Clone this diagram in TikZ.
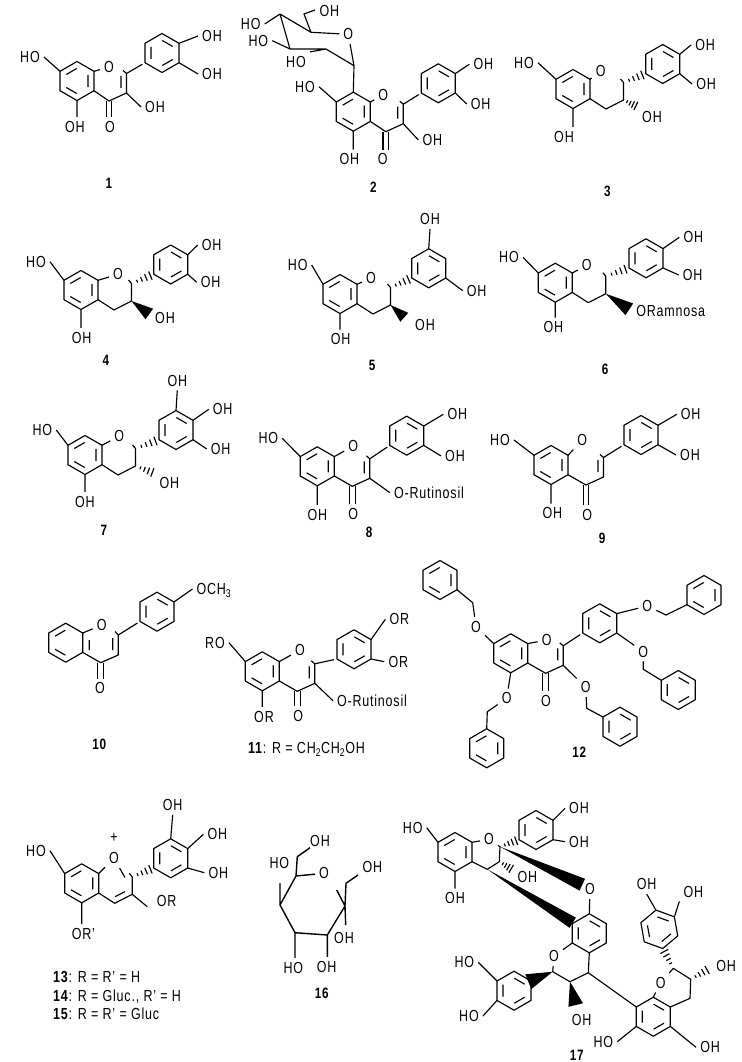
\documentclass[tikz,border=0pt]{standalone}
\usepackage{fontspec}
\setmainfont[FakeStretch=0.78,LetterSpace=5]{Liberation Sans}
\usetikzlibrary{calc}

\newcommand{\hexring}{
  \coordinate (-1) at (0,-19.5);
  \coordinate (-2) at (17,-9.7);
  \coordinate (-3) at (17,9.7);
  \coordinate (-4) at (0,19.5);
  \coordinate (-5) at (-17,9.7);
  \coordinate (-6) at (-17,-9.7);
  \draw[bond] (-1) -- (-2) -- (-3) -- (-4) -- (-5) -- (-6) -- cycle;
}
\newcommand{\innera}{\draw[bond] (-10.7,-6.5) -- (-0.3,-12.5) (11,-6) -- (11,6) (-0.3,12.5) -- (-10.7,6.5);}
\newcommand{\innerb}{\draw[bond] (0.3,-12.5) -- (10.7,-6.5) (10.7,6.5) -- (0.3,12.5) (-11,6) -- (-11,-6);}
\newcommand{\hashbond}[2]{\foreach \hp/\hw in {.25/1.5,.45/2.5,.65/3.5,.85/4.5}
  {\draw[bond] ($(#1)!\hp!(#2)!\hw pt!90:(#2)$) -- ($(#1)!\hp!(#2)!\hw pt!-90:(#2)$);}}
\newcommand{\wedgebond}[3]{\fill ($(#1)$) -- ($(#2)!#3pt!90:(#1)$) -- ($(#2)!#3pt!-90:(#1)$) -- cycle;}
\newcommand{\oxobond}[2]{\draw[bond] ([xshift=-2.8pt]#1) -- ([xshift=-2.8pt]#1 |- #2.north)
  ([xshift=2.8pt]#1) -- ([xshift=2.8pt]#1 |- #2.north);}

\tikzset{
  bond/.style={line width=1.15pt, line join=round},
  gap/.style={bond, shorten >=3pt},
  lbl/.style={inner sep=4pt, text depth=0pt, font=\fontsize{16}{18}\selectfont},
  num/.style={lbl, inner sep=0pt, font=\fontsize{15}{17}\selectfont\bfseries},
  pics/ringa/.style={code={\hexring \innera}},
  pics/ringb/.style={code={\hexring \innerb}},
  pics/ringc/.style={code={\hexring \draw[bond] (-10.7,-6.5) -- (-0.3,-12.5) (-0.3,12.5) -- (-10.7,6.5);}},
  pics/flavonol/.style={code={
    \hexring \innera
    \coordinate (-c4) at ({35+#1},20);
    \coordinate (-c3) at ({52.5+#1},12);
    \coordinate (-c2) at ({52.5+#1},-7.5);
    \coordinate (-t) at ({49+#1},-10.5);
    \draw[bond] (-3) -- (-c4) -- (-c3) -- (-c2) -- (-t) ({47+#1},-5) -- ({47+#1},7);
  }},
  pics/flavonol/.default=0,
  pics/flavan/.style={code={
    \hexring \innera
    \coordinate (-c4) at (33,20);
    \coordinate (-c3) at (50.5,11);
    \coordinate (-c2) at (50.5,-6.5);
    \coordinate (-t) at (47.5,-10);
    \draw[bond] (-3) -- (-c4) -- (-c3) -- (-c2) -- (-t);
  }},
}

\begin{document}
\begin{tikzpicture}[x=1pt, y=-1pt]
  \useasboundingbox (0,0) rectangle (741,1062);

  \pic (m1) at (77,81) {flavonol=-3};
  \pic (m1b) at (162,53) {ringb};
  \node[lbl] (m1ho) at (30,57) {HO};
  \node[lbl] (m1oh5) at (75,127) {OH};
  \node[lbl] (m1o) at (109,67) {O};
  \node[lbl] (m1oxo) at (110,127) {O};
  \node[lbl] (m1oh3) at (155,107) {OH};
  \node[lbl] (m1oha) at (212,36) {OH};
  \node[lbl] (m1ohb) at (212,74) {OH};
  \node[num] (m1n) at (109,183) {1};
  \draw[bond] (m1ho.east) -- (m1-6) (m1-4) -- (m1-4 |- m1oh5.north) (m1-2) -- (m1o)
    (m1-c3) -- (m1oh3.west) (m1b-2) -- (m1oha.west) (m1b-3) -- (m1ohb.west);
  \draw[gap] (m1-c2) -- (m1b-5);
  \oxobond{m1-c4}{m1oxo}

  \pic (m2) at (353.3,111.7) {flavonol=-2.5};
  \pic (m2b) at (438.3,83.3) {ringb};
  \node[lbl] (m2ho) at (305,86.7) {HO};
  \node[lbl] (m2oh5) at (349.3,159.3) {OH};
  \node[lbl] (m2o) at (383.3,95) {O};
  \node[lbl] (m2oxo) at (382.7,159.3) {O};
  \node[lbl] (m2oh3) at (432.3,140) {OH};
  \node[lbl] (m2oha) at (483.3,64.3) {OH};
  \node[lbl] (m2ohb) at (480.7,104) {OH};
  \node[num] (m2n) at (373.3,187.3) {2};
  \draw[bond] (m2ho.east) -- (m2-6) (m2-4) -- (m2-4 |- m2oh5.north) (m2-2) -- (m2o)
    (m2-c3) -- (m2oh3.west) (m2b-2) -- (m2oha.west) (m2b-3) -- (m2ohb.west);
  \draw[gap] (m2-c2) -- (m2b-5);
  \oxobond{m2-c4}{m2oxo}
  \coordinate (s1) at (354,65.7);
  \coordinate (s2) at (326,49);
  \coordinate (s3) at (290,49);
  \coordinate (s4) at (280,14);
  \coordinate (s5) at (311,32.3);
  \coordinate (s6) at (304,14);
  \coordinate (s7) at (315,10);
  \node[lbl] (sgo) at (348.3,34.3) {O};
  \node[lbl] (sgoh) at (329.3,10.7) {OH};
  \node[lbl] (sgho4) at (250.7,24) {HO};
  \node[lbl] (sgho3) at (258.3,40.7) {HO};
  \node[lbl] (sgho2) at (296,61.7) {HO};
  \draw[bond] (m2-1) -- (s1) -- (s2) -- (s3) -- (s4) -- (s5) -- (sgo) -- (s1)
    (s5) -- (s6) -- (s7) (s4) -- (sgho4.east) (s3) -- (sgho3.east) (s2) -- (sgho2.north east);

  \pic (m3) at (573,89) {flavan};
  \pic (m3b) at (662.7,64) {ringb};
  \node[lbl] (m3ho) at (524,62.7) {HO};
  \node[lbl] (m3oh5) at (564,136.7) {OH};
  \node[lbl] (m3o) at (600.7,71.3) {O};
  \node[lbl] (m3oh3) at (652,116.7) {OH};
  \node[lbl] (m3oha) at (705,45) {OH};
  \node[lbl] (m3ohb) at (706,84) {OH};
  \node[num] (m3n) at (607.3,191.7) {3};
  \draw[bond] (m3ho.east) -- (m3-6) (m3-4) -- (m3-4 |- m3oh5.north) (m3-2) -- (m3o)
    (m3b-2) -- (m3oha.west) (m3b-3) -- (m3ohb.west);
  \hashbond{m3-c2}{m3b-5}
  \hashbond{m3-c3}{m3oh3.north west}

  \pic (m4) at (81,290) {flavan};
  \pic (m4b) at (170.7,264.5) {ringb};
  \coordinate (m4w) at (149.3,314);
  \node[lbl] (m4ho) at (36,261.7) {HO};
  \node[lbl] (m4oh5) at (81.7,337.7) {OH};
  \node[lbl] (m4o) at (118,274.3) {O};
  \node[lbl] (m4oh3) at (165,317.7) {OH};
  \node[lbl] (m4oha) at (211.7,245) {OH};
  \node[lbl] (m4ohb) at (210.7,282.3) {OH};
  \node[num] (m4n) at (106,360.7) {4};
  \draw[bond] (m4ho.east) -- (m4-6) (m4-4) -- (m4-4 |- m4oh5.north) (m4-2) -- (m4o)
    (m4b-2) -- (m4oha.west) (m4b-3) -- (m4ohb.west);
  \hashbond{m4-c2}{m4b-5}
  \wedgebond{m4-c3}{m4w}{6.5}

  \pic (m5) at (340,294) {flavan};
  \pic (m5b) at (428.7,268.3) {ringb};
  \coordinate (m5w) at (404.3,317.3);
  \node[lbl] (m5ho) at (297.7,265) {HO};
  \node[lbl] (m5oh5) at (340.7,339.3) {OH};
  \node[lbl] (m5o) at (371,278) {O};
  \node[lbl] (m5oh3) at (425,325) {OH};
  \node[lbl] (m5oha) at (430,219.3) {OH};
  \node[lbl] (m5ohb) at (476.7,290.7) {OH};
  \node[num] (m5n) at (372,365) {5};
  \draw[bond] (m5ho.east) -- (m5-6) (m5-4) -- (m5-4 |- m5oh5.north) (m5-2) -- (m5o)
    (m5b-1) -- (m5oha.south) (m5b-3) -- (m5ohb.west);
  \hashbond{m5-c2}{m5b-5}
  \wedgebond{m5-c3}{m5w}{6}

  \pic (m6) at (555.3,282.7) {flavan};
  \pic (m6b) at (646,258.3) {ringb};
  \coordinate (m6w) at (629.3,309.3);
  \node[lbl] (m6ho) at (509,257.3) {HO};
  \node[lbl] (m6oh5) at (553.3,327.3) {OH};
  \node[lbl] (m6o) at (586.7,265) {O};
  \node[lbl] (m6ram) at (670.7,310.7) {ORamnosa};
  \node[lbl] (m6oha) at (693.3,237.3) {OH};
  \node[lbl] (m6ohb) at (692.7,275) {OH};
  \node[num] (m6n) at (605,369.3) {6};
  \draw[bond] (m6ho.east) -- (m6-6) (m6-4) -- (m6-4 |- m6oh5.north) (m6-2) -- (m6o)
    (m6b-2) -- (m6oha.west) (m6b-3) -- (m6ohb.west);
  \hashbond{m6-c2}{m6b-5}
  \wedgebond{m6-c3}{m6w}{7}

  \pic (m7) at (85,455) {flavan};
  \pic (m7b) at (176,430) {ringb};
  \node[lbl] (m7ho) at (42.3,430) {HO};
  \node[lbl] (m7oh5) at (85,501.7) {OH};
  \node[lbl] (m7o) at (119.3,436) {O};
  \node[lbl] (m7oh3) at (169.3,483.3) {OH};
  \node[lbl] (m7oha) at (177.3,380.7) {OH};
  \node[lbl] (m7ohb) at (222.7,409.3) {OH};
  \node[lbl] (m7ohc) at (220.7,449) {OH};
  \node[num] (m7n) at (104,530) {7};
  \draw[bond] (m7ho.east) -- (m7-6) (m7-4) -- (m7-4 |- m7oh5.north) (m7-2) -- (m7o)
    (m7b-1) -- (m7oha.south) (m7b-2) -- (m7ohb.west) (m7b-3) -- (m7ohc.west);
  \hashbond{m7-c2}{m7b-5}
  \hashbond{m7-c3}{m7oh3.north west}

  \pic (m8) at (317.3,466.3) {flavonol};
  \pic (m8b) at (406.7,435.7) {ringb};
  \node[lbl] (m8ho) at (268.3,438.3) {HO};
  \node[lbl] (m8oh5) at (317.3,515) {OH};
  \node[lbl] (m8o) at (353.3,446) {O};
  \node[lbl] (m8oxo) at (353.3,514) {O};
  \node[lbl] (m8rut) at (429,492.7) {O-Rutinosil};
  \node[lbl] (m8oha) at (457.3,414.3) {OH};
  \node[lbl] (m8ohb) at (455,456) {OH};
  \node[num] (m8n) at (369,532) {8};
  \draw[bond] (m8ho.east) -- (m8-6) (m8-4) -- (m8-4 |- m8oh5.north) (m8-2) -- (m8o)
    (m8-c3) -- (m8rut.west) (m8b-2) -- (m8oha.west) (m8b-3) -- (m8ohb.west);
  \draw[gap] (m8-c2) -- (m8b-5);
  \oxobond{m8-c4}{m8oxo}

  \pic (m9) at (551,465) {flavonol};
  \pic (m9b) at (641,435) {ringb};
  \node[lbl] (m9ho) at (500,440) {HO};
  \node[lbl] (m9oh5) at (552.3,513.3) {OH};
  \node[lbl] (m9o) at (582.3,440) {O};
  \node[lbl] (m9oxo) at (587.3,515) {O};
  \node[lbl] (m9oha) at (690.7,414.3) {OH};
  \node[lbl] (m9ohb) at (690,455) {OH};
  \node[num] (m9n) at (602,538.3) {9};
  \draw[bond] (m9ho.east) -- (m9-6) (m9-4) -- (m9-4 |- m9oh5.north) (m9-2) -- (m9o)
    (m9b-2) -- (m9oha.west) (m9b-3) -- (m9ohb.west);
  \draw[gap] (m9-c2) -- (m9b-5);
  \oxobond{m9-c4}{m9oxo}

  \pic (m10) at (65.7,642.7) {ringc};
  \pic (m10b) at (157,611.7) {ringb};
  \coordinate (m10c2) at (118.3,635);
  \coordinate (m10c3) at (118.3,655);
  \coordinate (m10c4) at (100.7,662.7);
  \coordinate (m10t) at (115,631.5);
  \coordinate (m10i1) at (89.3,640);
  \coordinate (m10i2) at (89.3,650);
  \coordinate (m10i3) at (112.7,638);
  \coordinate (m10i4) at (112.7,650);
  \node[lbl] (m10o) at (101.7,625) {O};
  \node[lbl] (m10oxo) at (100,688.3) {O};
  \node[lbl] (m10och) at (214,589) {OCH\textsubscript{3}};
  \node[num] (m10n) at (99.3,744) {10};
  \draw[bond] (m10-2) -- (m10o) (m10-3) -- (m10c4) -- (m10c3) -- (m10c2) -- (m10t)
    (m10i1) -- (m10i2) (m10i3) -- (m10i4) (m10b-2) -- (m10och.west);
  \draw[gap] (m10c2) -- (m10b-5);
  \oxobond{m10c4}{m10oxo}

  \pic (m11) at (262.3,671.3) {flavonol};
  \pic (m11b) at (354,649.3) {ringb};
  \node[lbl] (m11ro) at (215,642.7) {RO};
  \node[lbl] (m11or5) at (264,716.7) {OR};
  \node[lbl] (m11o) at (300,650) {O};
  \node[lbl] (m11oxo) at (298.3,716) {O};
  \node[lbl] (m11rut) at (372,700.7) {O-Rutinosil};
  \node[lbl] (m11ora) at (399.3,619.3) {OR};
  \node[lbl] (m11orb) at (398.3,661.7) {OR};
  \node[lbl, anchor=west] (m11n) at (244,748) {\textbf{11}: R = CH\textsubscript{2}CH\textsubscript{2}OH};
  \draw[bond] (m11ro.east) -- (m11-6) (m11-4) -- (m11-4 |- m11or5.north) (m11-2) -- (m11o)
    (m11-c3) -- (m11rut.west) (m11b-2) -- (m11ora.west) (m11b-3) -- (m11orb.west);
  \draw[gap] (m11-c2) -- (m11b-5);
  \oxobond{m11-c4}{m11oxo}

  \pic (m12) at (510.7,653.3) {flavonol};
  \pic (m12b) at (599.7,623.3) {ringb};
  \pic (m12r) at (440,580) {ringa};
  \pic (m12s) at (486.7,748.3) {ringa};
  \pic (m12t) at (620,726.7) {ringb};
  \pic (m12u) at (678.3,690) {ringb};
  \pic (m12v) at (704,595) {ringa};
  \coordinate (m12c7) at (472.7,602.7);
  \coordinate (m12c5) at (487.3,711.7);
  \coordinate (m12c3) at (586.7,708.3);
  \coordinate (m12cu) at (643.3,669.3);
  \coordinate (m12cv) at (666,615);
  \node[lbl] (m12o7) at (476,626.7) {O};
  \node[lbl] (m12o5) at (506.7,698.3) {O};
  \node[lbl] (m12o) at (546.7,640) {O};
  \node[lbl] (m12oxo) at (546,700.7) {O};
  \node[lbl] (m12o3) at (585.7,687.3) {O};
  \node[lbl] (m12ou) at (643.3,651.7) {O};
  \node[lbl] (m12ov) at (647.3,606) {O};
  \node[num] (m12n) at (579.3,752.7) {12};
  \draw[bond] (m12-2) -- (m12o) (m12-6) -- (m12o7) -- (m12c7) -- (m12r-3)
    (m12-4) -- (m12o5) -- (m12c5) -- (m12s-1)
    (m12-c3) -- (m12o3) -- (m12c3) -- (m12t-6)
    (m12b-3) -- (m12ou) -- (m12cu) -- (m12u-6)
    (m12b-2) -- (m12ov) -- (m12cv) -- (m12v-5);
  \draw[gap] (m12-c2) -- (m12b-5);
  \oxobond{m12-c4}{m12oxo}

  \pic (m13) at (81.7,883.3) {flavan};
  \pic (m13b) at (170.7,858.3) {ringb};
  \coordinate (m13e) at (147.3,906.7);
  \coordinate (m13t) at (125,877.5);
  \coordinate (m13i1) at (115,896.7);
  \coordinate (m13i2) at (125,891.7);
  \node[lbl] (m13ho) at (36,850.7) {HO};
  \node[lbl] (m13or5) at (83.3,934) {OR'};
  \node[lbl] (m13o) at (114,858.3) {O};
  \node[lbl] (m13plus) at (114,838.3) {+};
  \node[lbl] (m13or) at (166.7,900.7) {OR};
  \node[lbl] (m13oha) at (172.7,805) {OH};
  \node[lbl] (m13ohb) at (217.3,834.3) {OH};
  \node[lbl] (m13ohc) at (218.3,872.7) {OH};
  \node[lbl, anchor=west] (m13n) at (49,976.7) {\textbf{13}: R = R' = H};
  \node[lbl, anchor=west] (m14n) at (49,996) {\textbf{14}: R = Gluc., R' = H};
  \node[lbl, anchor=west] (m15n) at (49,1014) {\textbf{15}: R = R' = Gluc};
  \draw[bond] (m13ho.east) -- (m13-6) (m13-4) -- (m13-4 |- m13or5.north) (m13-2) -- (m13o) -- (m13t)
    (m13-c3) -- (m13e) (m13i1) -- (m13i2)
    (m13b-1) -- (m13oha.south) (m13b-2) -- (m13ohb.west) (m13b-3) -- (m13ohc.west);
  \hashbond{m13-c2}{m13b-5}

  \coordinate (m16a) at (296,876);
  \coordinate (m16b) at (280,905);
  \coordinate (m16c) at (295,932.7);
  \coordinate (m16d) at (327.3,935);
  \coordinate (m16e) at (345,906);
  \coordinate (m16f) at (346,883.3);
  \coordinate (m16g) at (358,875);
  \coordinate (m16h) at (297.3,856.7);
  \coordinate (m16i) at (310,847.7);
  \coordinate (m16j) at (280,883);
  \coordinate (m16k) at (336.7,890);
  \coordinate (m16l) at (345.7,925);
  \node[lbl] (m16o) at (324,873.3) {O};
  \node[lbl] (m16oha) at (320,840.7) {OH};
  \node[lbl] (m16ho) at (279.3,863.3) {HO};
  \node[lbl] (m16ohb) at (372.3,866.7) {OH};
  \node[lbl] (m16ohc) at (344,938.3) {OH};
  \node[lbl] (m16hod) at (293.3,967.7) {HO};
  \node[lbl] (m16ohe) at (326.7,966.7) {OH};
  \node[num] (m16n) at (321.7,993.3) {16};
  \draw[bond, line width=1.4pt] (m16o) -- (m16a) -- (m16b) -- (m16c) -- (m16d) -- (m16e) -- (m16f) -- (m16g)
    (m16a) -- (m16h) -- (m16i) (m16b) -- (m16j) (m16e) -- (m16k) (m16e) -- (m16l)
    (m16c) -- (m16c |- m16hod.north) (m16d) -- (m16d |- m16ohe.north);

  \pic (m17a) at (455,852) {ringa};
  \pic (m17b) at (536,830) {ringb};
  \pic (m17d) at (589.3,933.3) {ringb};
  \pic (m17e) at (514,990.7) {ringb};
  \pic (m17f) at (653.3,1016.7) {ringb};
  \pic[rotate=10] (m17g) at (659.3,929.3) {ringb};
  \coordinate (m17c2) at (500,846.7);
  \coordinate (m17c3) at (499.3,861.7);
  \coordinate (m17c4) at (487.3,869.3);
  \coordinate (m17h3) at (513.3,870);
  \coordinate (m17wa) at (582.3,884.7);
  \coordinate (m17wb) at (572.7,922.7);
  \coordinate (m17d2) at (552.7,971.7);
  \coordinate (m17d3) at (570,981.7);
  \coordinate (m17d4) at (588.3,972.7);
  \coordinate (m17wc) at (528.3,981.7);
  \coordinate (m17wd) at (575.7,1005);
  \coordinate (m17f2) at (673.3,968.3);
  \coordinate (m17f3) at (690.7,979.3);
  \coordinate (m17f4) at (690,998.3);
  \coordinate (m17h4) at (710,968.3);
  \node[lbl] (m17ho) at (412.7,827.7) {HO};
  \node[lbl] (m17oh5) at (455,898.3) {OH};
  \node[lbl] (m17ao) at (489,839.3) {O};
  \node[lbl] (m17oh3) at (527.3,876.7) {OH};
  \node[lbl] (m17oha) at (579,808.3) {OH};
  \node[lbl] (m17ohb) at (579,841.7) {OH};
  \node[lbl] (m17oe) at (590,889.3) {O};
  \node[lbl] (m17do) at (554,956) {O};
  \node[lbl] (m17hoa) at (464.3,962.3) {HO};
  \node[lbl] (m17hob) at (469,1016) {HO};
  \node[lbl] (m17ohd) at (581.7,1020) {OH};
  \node[lbl] (m17hof) at (603.3,1041.7) {HO};
  \node[lbl] (m17ohf) at (710,1047.3) {OH};
  \node[lbl] (m17fo) at (660.7,982.7) {O};
  \node[lbl] (m17ohg) at (726,965.7) {OH};
  \node[lbl] (m17oga) at (646.7,884.3) {OH};
  \node[lbl] (m17ogb) at (693.3,891.7) {OH};
  \node[num] (m17n) at (576.7,1055) {17};
  \draw[bond] (m17ho.east) -- (m17a-6) (m17a-4) -- (m17oh5.north) (m17a-2) -- (m17ao) -- (m17c2) -- (m17c3) -- (m17c4) -- (m17a-3)
    (m17b-2) -- (m17oha.west) (m17b-3) -- (m17ohb.west) (m17oe) -- (m17d-1)
    (m17d-5) -- (m17do) -- (m17d2) -- (m17d3) -- (m17d4) -- (m17d-4) (m17d4) -- (m17f-6)
    (m17hoa.east) -- (m17e-6) (m17hob.east) -- (m17e-5)
    (m17hof.east) -- (m17f-5) (m17f-3) -- (m17ohf.west)
    (m17f-1) -- (m17fo) -- (m17f2) -- (m17f3) -- (m17f4) -- (m17f-2)
    (m17g-1) -- (m17oga.south) (m17g-2) -- (m17ogb.south west);
  \hashbond{m17c2}{m17b-5}
  \hashbond{m17c3}{m17h3}
  \hashbond{m17f3}{m17h4}
  \hashbond{m17f2}{m17g-4}
  \wedgebond{m17c2}{m17wa}{6.5}
  \wedgebond{m17c4}{m17wb}{6}
  \wedgebond{m17d2}{m17wc}{8}
  \wedgebond{m17d3}{m17wd}{7.5}
\end{tikzpicture}
\end{document}
